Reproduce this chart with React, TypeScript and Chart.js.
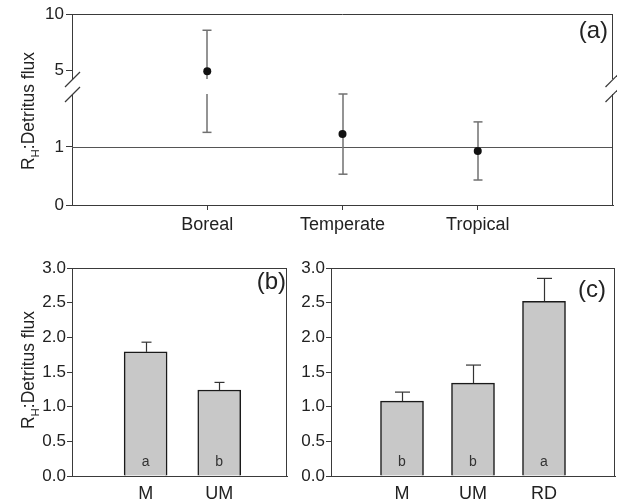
import React, { useEffect, useRef } from "react";
import { Chart, registerables } from "chart.js";

Chart.register(...registerables);

const FAMILY = "'Liberation Sans', Arial, Helvetica, sans-serif";
const AXIS = "#3a3a3a";
const TEXT = "#222222";

// ---------- Panel (a): biome point estimates with broken y axis ----------
const biomes = ["Boreal", "Temperate", "Tropical"];
const biomeMeans = [4.9, 1.22, 0.93];
const biomeErrors = [3.65, 0.69, 0.5];
const aLowerTicks = [0, 1];
const aUpperTicks = [5, 10];
const aLowerRange = [0, 1.91];
const aUpperRange = [4.2, 10];
const aRefValue = 1;

// ---------- Panel (b) ----------
const bCats = ["M", "UM"];
const bMeans = [1.79, 1.24];
const bErrors = [0.14, 0.11];
const bLetters = ["a", "b"];

// ---------- Panel (c) ----------
const cCats = ["M", "UM", "RD"];
const cMeans = [1.08, 1.34, 2.52];
const cErrors = [0.13, 0.26, 0.33];
const cLetters = ["b", "b", "a"];

const barTicks = [0, 0.5, 1, 1.5, 2, 2.5, 3];
const titleParts = ["R", "H", ":Detritus flux"];

function seg(ctx: CanvasRenderingContext2D, x1: number, y1: number, x2: number, y2: number) {
  ctx.beginPath();
  ctx.moveTo(x1, y1);
  ctx.lineTo(x2, y2);
  ctx.stroke();
}

function drawYTitle(ctx: CanvasRenderingContext2D, cx: number, cy: number) {
  const main = 17.5;
  const sub = 11.5;
  ctx.save();
  ctx.translate(cx, cy);
  ctx.rotate(-Math.PI / 2);
  ctx.fillStyle = TEXT;
  ctx.textBaseline = "alphabetic";
  ctx.textAlign = "left";
  ctx.font = `${main}px ${FAMILY}`;
  const w0 = ctx.measureText(titleParts[0]).width;
  const w2 = ctx.measureText(titleParts[2]).width;
  ctx.font = `${sub}px ${FAMILY}`;
  const w1 = ctx.measureText(titleParts[1]).width;
  const total = w0 + w1 + w2;
  let x = -total / 2;
  const base = 6.3;
  ctx.font = `${main}px ${FAMILY}`;
  ctx.fillText(titleParts[0], x, base);
  x += w0;
  ctx.font = `${sub}px ${FAMILY}`;
  ctx.fillText(titleParts[1], x, base + 4.5);
  x += w1;
  ctx.font = `${main}px ${FAMILY}`;
  ctx.fillText(titleParts[2], x, base);
  ctx.restore();
}

function drawPanelLabel(ctx: CanvasRenderingContext2D, text: string, right: number, cy: number) {
  ctx.save();
  ctx.fillStyle = TEXT;
  ctx.font = `24px ${FAMILY}`;
  ctx.textAlign = "right";
  ctx.textBaseline = "middle";
  ctx.fillText(text, right, cy);
  ctx.restore();
}

function fixWidth(w: number) {
  return (s: any) => {
    s.width = w;
  };
}
function fixHeight(h: number) {
  return (s: any) => {
    s.height = h;
  };
}

function makeAConfig(): any {
  const upperPts: any[] = [];
  const lowerPts: any[] = [];
  biomeMeans.forEach((m, i) => {
    if (m >= aUpperRange[0]) upperPts.push({ x: i + 1, y: m });
    else lowerPts.push({ x: i + 1, y: m });
  });

  const yCommon = {
    type: "linear",
    position: "left",
    axis: "y",
    stack: "a",
    afterFit: fixWidth(72),
    grid: { drawOnChartArea: false, drawTicks: true, tickLength: 6, color: AXIS, lineWidth: 1 },
    border: { display: true, color: AXIS, width: 1 },
    ticks: { font: { family: FAMILY, size: 17 }, color: TEXT, padding: 2, callback: (v: any) => String(v) },
  };

  const plugin = {
    id: "panelA",
    beforeDatasetsDraw(chart: any) {
      const { ctx, chartArea: ca, scales } = chart;
      const yLow = scales.yLow;
      const yHigh = scales.yHigh;
      const xs = scales.x;
      ctx.save();
      ctx.lineWidth = 1;
      ctx.strokeStyle = "#555555";
      const yr = Math.round(yLow.getPixelForValue(aRefValue)) + 0.5;
      seg(ctx, ca.left, yr, ca.right, yr);

      const segs = [
        { s: yLow, min: aLowerRange[0], max: aLowerRange[1] },
        { s: yHigh, min: aUpperRange[0], max: aUpperRange[1] },
      ];
      ctx.strokeStyle = "#707070";
      ctx.lineWidth = 1.5;
      biomeMeans.forEach((m, i) => {
        const x = Math.round(xs.getPixelForValue(i + 1));
        const lo = m - biomeErrors[i];
        const hi = m + biomeErrors[i];
        segs.forEach((g) => {
          const a = Math.max(lo, g.min);
          const b = Math.min(hi, g.max);
          if (a < b) seg(ctx, x, g.s.getPixelForValue(a), x, g.s.getPixelForValue(b));
          [lo, hi].forEach((v) => {
            if (v >= g.min && v <= g.max) {
              const y = g.s.getPixelForValue(v);
              seg(ctx, x - 4.5, y, x + 4.5, y);
            }
          });
        });
      });
      ctx.restore();
    },
    afterDraw(chart: any) {
      const { ctx, chartArea: ca, scales } = chart;
      const yLow = scales.yLow;
      const yHigh = scales.yHigh;
      ctx.save();
      ctx.strokeStyle = AXIS;
      ctx.lineWidth = 1;
      const top = Math.round(ca.top) + 0.5;
      const right = Math.round(ca.right) - 0.5;
      seg(ctx, ca.left, top, ca.right, top);
      seg(ctx, right, ca.top, right, yHigh.bottom);
      seg(ctx, right, yLow.top, right, ca.bottom);
      ctx.lineWidth = 1.2;
      [ca.left, right].forEach((x) => {
        [yHigh.bottom, yLow.top].forEach((y) => {
          seg(ctx, x - 7, y + 8, x + 8, y - 7);
        });
      });
      ctx.restore();
      drawYTitle(ctx, 28, 111);
      drawPanelLabel(ctx, "(a)", 608, 31);
    },
  };

  return {
    type: "scatter",
    data: {
      datasets: [
        { data: lowerPts, yAxisID: "yLow", pointRadius: 4, backgroundColor: "#111111", borderWidth: 0 },
        { data: upperPts, yAxisID: "yHigh", pointRadius: 4, backgroundColor: "#111111", borderWidth: 0 },
      ],
    },
    options: {
      animation: false,
      responsive: false,
      events: [],
      layout: { padding: { top: 14, right: 3, left: 0, bottom: 0 } },
      plugins: { legend: { display: false }, tooltip: { enabled: false } },
      scales: {
        x: {
          type: "linear",
          position: "bottom",
          min: 0,
          max: biomes.length + 1,
          afterFit: fixHeight(35),
          afterBuildTicks: (s: any) => {
            s.ticks = biomes.map((_, i) => ({ value: i + 1 }));
          },
          grid: { drawOnChartArea: false, drawTicks: true, tickLength: 5, color: AXIS },
          border: { display: true, color: AXIS },
          ticks: {
            font: { family: FAMILY, size: 18 },
            color: TEXT,
            padding: 4,
            autoSkip: false,
            maxRotation: 0,
            callback: (_v: any, i: number) => biomes[i],
          },
        },
        yLow: {
          ...yCommon,
          stackWeight: 111,
          min: aLowerRange[0],
          max: aLowerRange[1],
          afterBuildTicks: (s: any) => {
            s.ticks = aLowerTicks.map((v) => ({ value: v }));
          },
        },
        yGap: {
          type: "linear",
          position: "left",
          axis: "y",
          stack: "a",
          stackWeight: 15,
          display: false,
          min: 0,
          max: 1,
          afterFit: fixWidth(72),
        },
        yHigh: {
          ...yCommon,
          stackWeight: 65,
          min: aUpperRange[0],
          max: aUpperRange[1],
          afterBuildTicks: (s: any) => {
            s.ticks = aUpperTicks.map((v) => ({ value: v }));
          },
        },
      },
    },
    plugins: [plugin],
  };
}

function makeBarConfig(p: {
  cats: string[];
  means: number[];
  errors: number[];
  letters: string[];
  xMax: number;
  yAxisWidth: number;
  padRight: number;
  capW: number;
  label: string;
  labelRight: number;
  labelY: number;
  title: boolean;
}): any {
  const plugin = {
    id: "barExtras",
    afterDatasetsDraw(chart: any) {
      const { ctx, chartArea: ca, scales } = chart;
      const xs = scales.x;
      const ys = scales.y;
      ctx.save();
      ctx.strokeStyle = "#333333";
      ctx.lineWidth = 1.2;
      p.means.forEach((m, i) => {
        const x = Math.round(xs.getPixelForValue(i + 1)) + 0.5;
        const y0 = ys.getPixelForValue(m);
        const y1 = ys.getPixelForValue(m + p.errors[i]);
        seg(ctx, x, y0, x, y1);
        seg(ctx, x - p.capW / 2, y1, x + p.capW / 2, y1);
      });
      ctx.fillStyle = "#333333";
      ctx.font = `14px ${FAMILY}`;
      ctx.textAlign = "center";
      ctx.textBaseline = "alphabetic";
      p.letters.forEach((t, i) => {
        const x = xs.getPixelForValue(i + 1);
        ctx.fillText(t, x, ys.getPixelForValue(0) - 10);
      });
      ctx.strokeStyle = AXIS;
      ctx.lineWidth = 1;
      const top = Math.round(ca.top) + 0.5;
      const right = Math.round(ca.right) - 0.5;
      seg(ctx, ca.left, top, ca.right, top);
      seg(ctx, right, ca.top, right, ca.bottom);
      ctx.restore();
      if (p.title) drawYTitle(ctx, 28, 125);
      drawPanelLabel(ctx, p.label, p.labelRight, p.labelY);
    },
  };

  return {
    type: "bar",
    data: {
      datasets: [
        {
          data: p.means.map((m, i) => ({ x: i + 1, y: m })),
          backgroundColor: "#c8c8c8",
          borderColor: "#1a1a1a",
          borderWidth: 1.5,
          barThickness: 43,
        },
      ],
    },
    options: {
      animation: false,
      responsive: false,
      events: [],
      layout: { padding: { top: 23, right: p.padRight, left: 0, bottom: 0 } },
      plugins: { legend: { display: false }, tooltip: { enabled: false } },
      scales: {
        x: {
          type: "linear",
          offset: false,
          min: 0,
          max: p.xMax,
          afterFit: fixHeight(24),
          afterBuildTicks: (s: any) => {
            s.ticks = p.cats.map((_, i) => ({ value: i + 1 }));
          },
          grid: { display: false, drawTicks: false, offset: false },
          border: { display: true, color: AXIS },
          ticks: {
            font: { family: FAMILY, size: 18 },
            color: TEXT,
            padding: 7,
            autoSkip: false,
            maxRotation: 0,
            callback: (_v: any, i: number) => p.cats[i],
          },
        },
        y: {
          type: "linear",
          min: 0,
          max: 3,
          afterFit: fixWidth(p.yAxisWidth),
          afterBuildTicks: (s: any) => {
            s.ticks = barTicks.map((v) => ({ value: v }));
          },
          grid: { drawOnChartArea: false, drawTicks: true, tickLength: 5, color: AXIS },
          border: { display: true, color: AXIS },
          ticks: {
            font: { family: FAMILY, size: 17 },
            color: TEXT,
            padding: 1,
            callback: (v: any) => Number(v).toFixed(1),
          },
        },
      },
    },
    plugins: [plugin],
  };
}

export default function App() {
  const aRef = useRef<HTMLCanvasElement>(null);
  const bRef = useRef<HTMLCanvasElement>(null);
  const cRef = useRef<HTMLCanvasElement>(null);

  useEffect(() => {
    const charts = [
      new Chart(aRef.current as HTMLCanvasElement, makeAConfig()),
      new Chart(
        bRef.current as HTMLCanvasElement,
        makeBarConfig({
          cats: bCats,
          means: bMeans,
          errors: bErrors,
          letters: bLetters,
          xMax: 2.92,
          yAxisWidth: 72,
          padRight: 13,
          capW: 10,
          label: "(b)",
          labelRight: 286,
          labelY: 37.5,
          title: true,
        })
      ),
      new Chart(
        cRef.current as HTMLCanvasElement,
        makeBarConfig({
          cats: cCats,
          means: cMeans,
          errors: cErrors,
          letters: cLetters,
          xMax: cCats.length + 1,
          yAxisWidth: 31,
          padRight: 2,
          capW: 15,
          label: "(c)",
          labelRight: 306,
          labelY: 45,
          title: false,
        })
      ),
    ];
    return () => charts.forEach((c) => c.destroy());
  }, []);

  return (
    <div
      style={{
        position: "absolute",
        left: 0,
        top: 0,
        width: 617,
        height: 500,
        background: "#ffffff",
        overflow: "hidden",
      }}
    >
      <canvas ref={aRef} width={617} height={240} style={{ position: "absolute", left: 0, top: 0 }} />
      <canvas ref={bRef} width={300} height={255} style={{ position: "absolute", left: 0, top: 245 }} />
      <canvas ref={cRef} width={317} height={255} style={{ position: "absolute", left: 300, top: 245 }} />
    </div>
  );
}
